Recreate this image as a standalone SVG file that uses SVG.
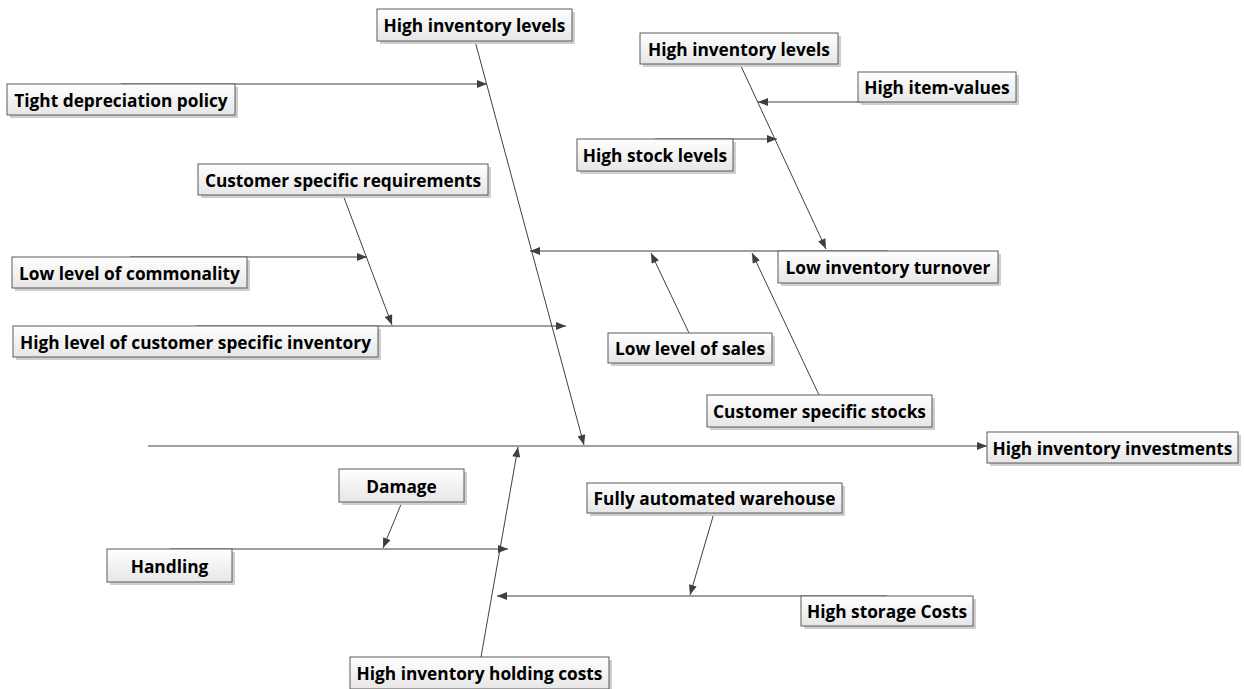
<svg xmlns="http://www.w3.org/2000/svg" width="1244" height="689" viewBox="0 0 1244 689">
  <defs>
    <linearGradient id="boxFill" x1="0" y1="0" x2="0" y2="1">
      <stop offset="0" stop-color="#ffffff"/>
      <stop offset="1" stop-color="#e6e6e6"/>
    </linearGradient>
    <marker id="arrow" viewBox="0 0 10 8" refX="10" refY="4" markerWidth="11" markerHeight="8" markerUnits="userSpaceOnUse" orient="auto">
      <path d="M0,0 L10,4 L0,8 Z" fill="#3f3f3f"/>
    </marker>
    <style>
      .conn { stroke: #404040; stroke-width: 1; fill: none; marker-end: url(#arrow); }
      .shadow { fill: #cfcfcf; }
      .box { fill: url(#boxFill); stroke: #5a5a5a; stroke-width: 1; }
      .label { font-family: "Open Sans", "Liberation Sans", sans-serif; font-weight: 700; font-size: 17.3px; fill: #000; text-anchor: middle; dominant-baseline: central; }
    </style>
  </defs>
  <rect width="1244" height="689" fill="#ffffff"/>

  <!-- connectors -->
  <g id="connectors">
    <!-- spine -->
    <line class="conn" x1="148" y1="446" x2="987" y2="446"/>
    <!-- upper main bone -->
    <line class="conn" x1="475" y1="41" x2="584" y2="445"/>
    <!-- lower main bone -->
    <line class="conn" x1="481" y1="657" x2="518" y2="447"/>
    <!-- upper branches -->
    <line class="conn" x1="121" y1="84" x2="487" y2="84"/>
    <line class="conn" x1="196" y1="326" x2="566" y2="326"/>
    <line class="conn" x1="888" y1="251" x2="530" y2="251"/>
    <line class="conn" x1="343" y1="195" x2="392" y2="325"/>
    <line class="conn" x1="130" y1="257" x2="367" y2="257"/>
    <line class="conn" x1="740" y1="64" x2="826" y2="249"/>
    <line class="conn" x1="937" y1="102" x2="758" y2="102"/>
    <line class="conn" x1="655" y1="139" x2="777" y2="139"/>
    <line class="conn" x1="689" y1="333" x2="651" y2="253"/>
    <line class="conn" x1="819" y1="395" x2="752" y2="253"/>
    <!-- lower branches -->
    <line class="conn" x1="170" y1="549" x2="508" y2="549"/>
    <line class="conn" x1="402" y1="502" x2="383" y2="548"/>
    <line class="conn" x1="887" y1="596" x2="497" y2="596"/>
    <line class="conn" x1="714" y1="513" x2="690" y2="595"/>
  </g>

  <g id="n-high-inventory-levels-1">
    <rect class="shadow" x="380" y="12" width="195" height="32"/>
    <rect class="box" x="377" y="9" width="195" height="32"/>
    <text class="label" x="474.5" y="25.5">High inventory levels</text>
  </g>
  <g id="n-tight-depreciation">
    <rect class="shadow" x="10" y="87" width="228" height="31"/>
    <rect class="box" x="7" y="84" width="228" height="31"/>
    <text class="label" x="121" y="100">Tight depreciation policy</text>
  </g>
  <g id="n-high-inventory-levels-2">
    <rect class="shadow" x="643" y="36" width="198" height="31"/>
    <rect class="box" x="640" y="33" width="198" height="31"/>
    <text class="label" x="739" y="49">High inventory levels</text>
  </g>
  <g id="n-high-item-values">
    <rect class="shadow" x="861" y="75" width="158" height="30"/>
    <rect class="box" x="858" y="72" width="158" height="30"/>
    <text class="label" x="937" y="87.5">High item-values</text>
  </g>
  <g id="n-high-stock-levels">
    <rect class="shadow" x="580" y="142" width="156" height="32"/>
    <rect class="box" x="577" y="139" width="156" height="32"/>
    <text class="label" x="655" y="155.5">High stock levels</text>
  </g>
  <g id="n-customer-specific-requirements">
    <rect class="shadow" x="201" y="167" width="290" height="31"/>
    <rect class="box" x="198" y="164" width="290" height="31"/>
    <text class="label" x="343" y="180">Customer specific requirements</text>
  </g>
  <g id="n-low-level-commonality">
    <rect class="shadow" x="15" y="260" width="235" height="31"/>
    <rect class="box" x="12" y="257" width="235" height="31"/>
    <text class="label" x="129.5" y="273">Low level of commonality</text>
  </g>
  <g id="n-low-inventory-turnover">
    <rect class="shadow" x="781" y="254" width="220" height="32"/>
    <rect class="box" x="778" y="251" width="220" height="32"/>
    <text class="label" x="888" y="267.5">Low inventory turnover</text>
  </g>
  <g id="n-high-level-customer-inventory">
    <rect class="shadow" x="16" y="329" width="365" height="31"/>
    <rect class="box" x="13" y="326" width="365" height="31"/>
    <text class="label" x="195.5" y="342">High level of customer specific inventory</text>
  </g>
  <g id="n-low-level-sales">
    <rect class="shadow" x="611" y="336" width="164" height="30"/>
    <rect class="box" x="608" y="333" width="164" height="30"/>
    <text class="label" x="690" y="348.5">Low level of sales</text>
  </g>
  <g id="n-customer-specific-stocks">
    <rect class="shadow" x="710" y="398" width="225" height="32"/>
    <rect class="box" x="707" y="395" width="225" height="32"/>
    <text class="label" x="819.5" y="411.5">Customer specific stocks</text>
  </g>
  <g id="n-high-inventory-investments">
    <rect class="shadow" x="990" y="435" width="251" height="31"/>
    <rect class="box" x="987" y="432" width="251" height="31"/>
    <text class="label" x="1112.5" y="448">High inventory investments</text>
  </g>
  <g id="n-damage">
    <rect class="shadow" x="342" y="472" width="125" height="33"/>
    <rect class="box" x="339" y="469" width="125" height="33"/>
    <text class="label" x="401.5" y="486">Damage</text>
  </g>
  <g id="n-fully-automated-warehouse">
    <rect class="shadow" x="590" y="486" width="255" height="30"/>
    <rect class="box" x="587" y="483" width="255" height="30"/>
    <text class="label" x="714.5" y="498.5">Fully automated warehouse</text>
  </g>
  <g id="n-handling">
    <rect class="shadow" x="110" y="552" width="125" height="33"/>
    <rect class="box" x="107" y="549" width="125" height="33"/>
    <text class="label" x="169.5" y="566">Handling</text>
  </g>
  <g id="n-high-storage-costs">
    <rect class="shadow" x="804" y="599" width="172" height="30"/>
    <rect class="box" x="801" y="596" width="172" height="30"/>
    <text class="label" x="887" y="611.5">High storage Costs</text>
  </g>
  <g id="n-high-inventory-holding-costs">
    <rect class="shadow" x="353" y="660" width="259" height="32"/>
    <rect class="box" x="350" y="657" width="259" height="32"/>
    <text class="label" x="479.5" y="673.5">High inventory holding costs</text>
  </g>
</svg>
